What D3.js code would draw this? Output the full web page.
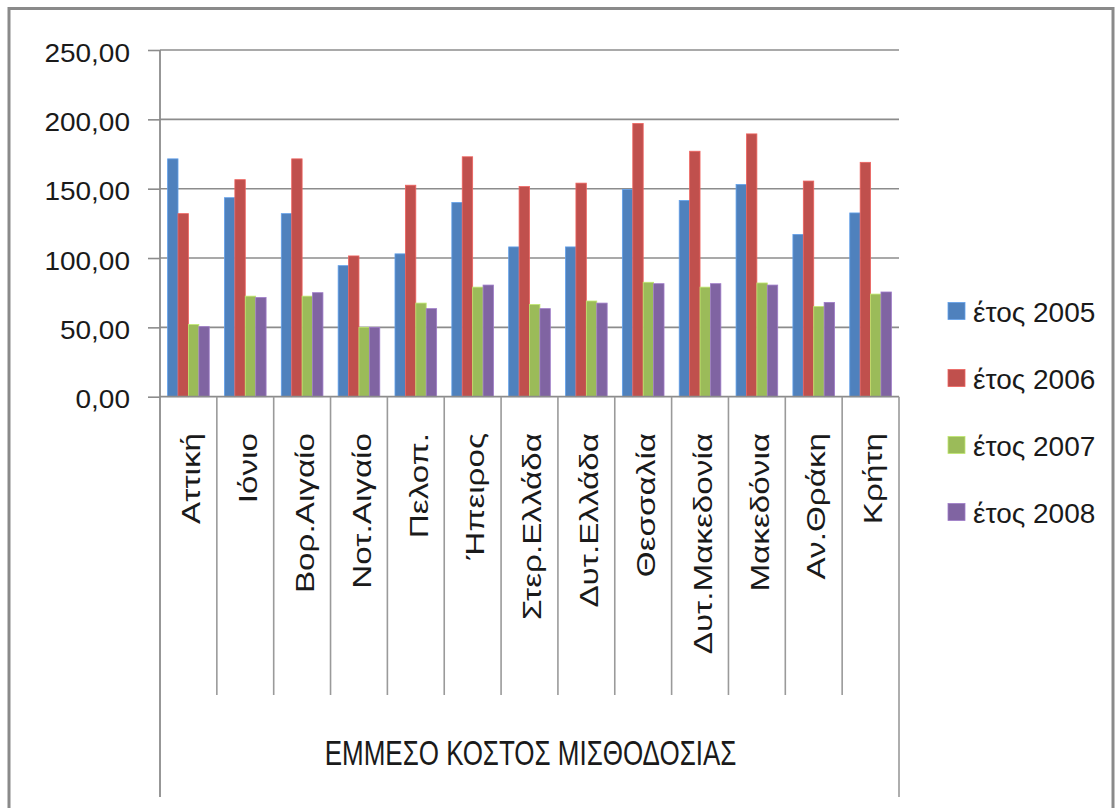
<!DOCTYPE html>
<html>
<head>
<meta charset="utf-8">
<script src="https://cdn.jsdelivr.net/npm/d3@7"></script>
<style>
  html, body { margin: 0; padding: 0; background: #fff; }
  svg { display: block; }
  text { font-family: "Liberation Sans", Arial, sans-serif; fill: #1a1a1a; }
</style>
</head>
<body>
<svg id="chart" width="1118" height="808"></svg>
<script>
// Regions (category axis) and yearly series
const regions = ["Αττική", "Ιόνιο", "Βορ.Αιγαίο", "Νοτ.Αιγαίο", "Πελοπ.", "Ήπειρος",
  "Στερ.Ελλάδα", "Δυτ.Ελλάδα", "Θεσσαλία", "Δυτ.Μακεδονία", "Μακεδόνια", "Αν.Θράκη", "Κρήτη"];
const seriesNames = ["έτος 2005", "έτος 2006", "έτος 2007", "έτος 2008"];
const values2005 = [171.5, 143.5, 132.0, 94.5, 103.0, 140.0, 108.0, 108.0, 149.5, 141.5, 153.0, 117.0, 132.5];
const values2006 = [132.0, 156.5, 171.5, 101.5, 152.5, 173.0, 151.5, 154.0, 197.0, 177.0, 189.5, 155.5, 169.0];
const values2007 = [52.0, 72.5, 72.5, 50.0, 67.5, 79.0, 66.5, 69.0, 82.5, 79.0, 82.0, 65.0, 74.0];
const values2008 = [50.5, 71.5, 75.0, 50.0, 63.5, 80.5, 63.5, 67.5, 81.5, 81.5, 80.5, 68.0, 75.5];
const yTicks = [0, 50, 100, 150, 200, 250];
const axisTitle = "ΕΜΜΕΣΟ ΚΟΣΤΟΣ ΜΙΣΘΟΔΟΣΙΑΣ";
const colors = ["#4F81BD", "#C0504D", "#9BBB59", "#8064A2"];

const seriesValues = [values2005, values2006, values2007, values2008];

const svg = d3.select("#chart");
const plot = { left: 160, right: 899, top: 50, bottom: 396.7 };

// Outer chart frame
svg.append("rect")
  .attr("x", 9).attr("y", 8.5).attr("width", 1104).attr("height", 812)
  .attr("fill", "none").attr("stroke", "#8a8a8a").attr("stroke-width", 3);

const x0 = d3.scaleBand().domain(regions).range([plot.left, plot.right]).padding(0);
const x1 = d3.scaleBand().domain(seriesNames).range([0, x0.bandwidth()])
  .paddingInner(0).paddingOuter(0.73);
const y = d3.scaleLinear().domain([0, 250]).range([plot.bottom, plot.top]);

const locale = d3.formatLocale({ decimal: ",", thousands: ".", grouping: [3], currency: ["", "€"] });
const fmt = locale.format(".2f");

// Horizontal gridlines
svg.append("g").selectAll("line").data(yTicks.filter(d => d > 0)).join("line")
  .attr("x1", plot.left).attr("x2", plot.right)
  .attr("y1", d => y(d)).attr("y2", d => y(d))
  .attr("stroke", "#8c8c8c").attr("stroke-width", 1.6);

// Value axis
const yAxis = svg.append("g")
  .attr("transform", `translate(${plot.left},0)`)
  .call(d3.axisLeft(y).tickValues(yTicks).tickFormat(fmt).tickSize(12).tickPadding(0));
yAxis.select(".domain").remove();
yAxis.selectAll(".tick line").attr("stroke", "#8c8c8c").attr("stroke-width", 1.6);
yAxis.selectAll(".tick text").remove();
yAxis.selectAll(".tick").append("text")
  .attr("text-anchor", "end")
  .attr("transform", "translate(-30,2) scale(1,0.9)")
  .attr("dy", "0.36em")
  .style("font-size", "28px")
  .text(d => fmt(d));

// Bars
const groups = svg.append("g").selectAll("g").data(regions).join("g")
  .attr("transform", d => `translate(${x0(d)},0)`);
groups.selectAll("rect")
  .data((d, i) => seriesNames.map((s, k) => ({ s, k, v: seriesValues[k][i] })))
  .join("rect")
  .attr("x", d => x1(d.s))
  .attr("width", x1.bandwidth())
  .attr("y", d => y(d.v))
  .attr("height", d => y(0) - y(d.v))
  .attr("fill", d => colors[d.k])
  .attr("stroke", d => d3.color(colors[d.k]).brighter(0.6))
  .attr("stroke-width", 0.8);

// Category axis: baseline, vertical axis line and dividers
const axisColor = "#9a9a9a";
svg.append("line")
  .attr("x1", plot.left).attr("x2", plot.right)
  .attr("y1", plot.bottom).attr("y2", plot.bottom)
  .attr("stroke", "#8c8c8c").attr("stroke-width", 1.8);
svg.append("line")
  .attr("x1", plot.left).attr("x2", plot.left)
  .attr("y1", plot.top).attr("y2", 797)
  .attr("stroke", "#8c8c8c").attr("stroke-width", 1.8);
svg.append("line")
  .attr("x1", plot.right).attr("x2", plot.right)
  .attr("y1", plot.bottom).attr("y2", 797)
  .attr("stroke", axisColor).attr("stroke-width", 1.6);
svg.append("g").selectAll("line").data(regions.slice(1)).join("line")
  .attr("x1", d => x0(d)).attr("x2", d => x0(d))
  .attr("y1", plot.bottom).attr("y2", 695)
  .attr("stroke", axisColor).attr("stroke-width", 1.6);

// Rotated region labels
svg.append("g").selectAll("text").data(regions).join("text")
  .attr("transform", d => `translate(${x0(d) + x0.bandwidth() / 2 + 3},433) scale(1,1.33) rotate(-90)`)
  .attr("text-anchor", "end")
  .attr("dy", "0.35em")
  .style("font-size", "25px")
  .text(d => d);

// Axis group title
svg.append("text")
  .attr("transform", `translate(${(plot.left + plot.right) / 2 + 1},752) scale(1,1.34)`)
  .attr("text-anchor", "middle")
  .attr("dy", "0.36em")
  .style("font-size", "26px")
  .text(axisTitle);

// Legend
const legend = svg.append("g").selectAll("g").data(seriesNames).join("g")
  .attr("transform", (d, i) => `translate(948,${311 + i * 67})`);
legend.append("rect")
  .attr("x", 0).attr("y", -8.5).attr("width", 17).attr("height", 17)
  .attr("fill", (d, i) => colors[i])
  .attr("stroke", (d, i) => d3.color(colors[i]).brighter(0.6))
  .attr("stroke-width", 0.8);
legend.append("text")
  .attr("x", 25).attr("y", 1)
  .attr("dy", "0.36em")
  .style("font-size", "28px")
  .text(d => d);
</script>
</body>
</html>
